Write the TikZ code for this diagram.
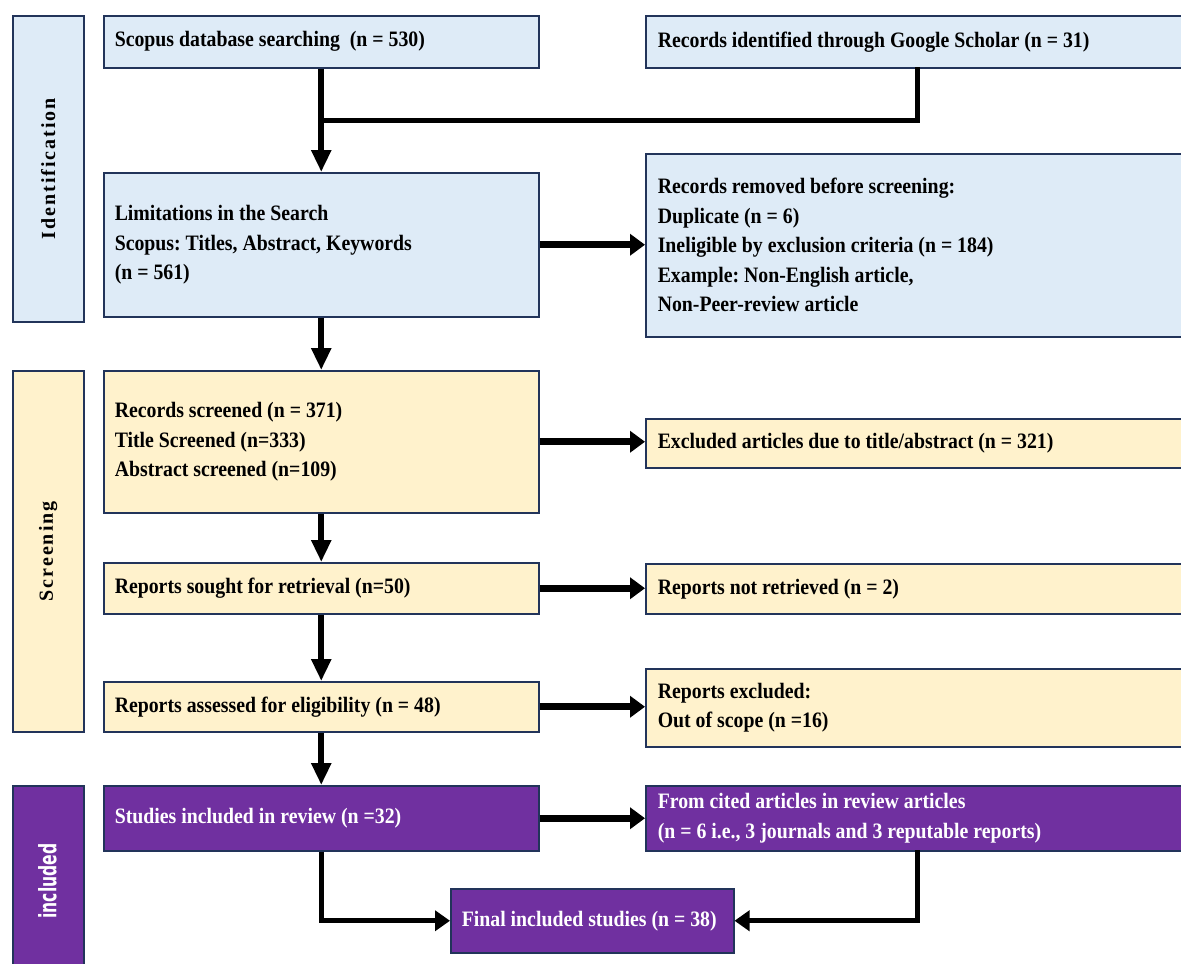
\documentclass[tikz,border=0pt]{standalone}
\usepackage{fontspec}
\usetikzlibrary{arrows.meta}
\newfontfamily\boxfont{Liberation Serif}[FakeStretch=0.9]
\newfontfamily\labfont{Liberation Serif}[LetterSpace=10]
\newfontfamily\incfont{DejaVu Sans}[FakeStretch=0.65]
\definecolor{bfill}{HTML}{DEEBF7}
\definecolor{yfill}{HTML}{FFF2CC}
\definecolor{pfill}{HTML}{7030A0}
\definecolor{navy}{HTML}{22345A}
\tikzset{
  x=1pt, y=-1pt,
  box/.style={draw=navy, line width=1.5pt, anchor=north west, align=flush left,
    inner xsep=11pt, inner ysep=0pt,
    font=\boxfont\bfseries\fontsize{22}{29.5}\selectfont\frenchspacing},
  lbox/.style={box, text width=413pt},
  rbox/.style={box, text width=540pt, inner xsep=12pt},
  blue/.style={fill=bfill},
  yel/.style={fill=yfill},
  pur/.style={fill=pfill, text=white},
  side/.style={draw=navy, line width=1.5pt, anchor=north west, minimum width=71pt, inner sep=0pt},
  vline/.style={line width=6pt, -{Triangle[width=19pt,length=22pt]}},
  hline/.style={line width=7pt, -{Triangle[width=21pt,length=15pt]}},
  mline/.style={line width=5pt},
  fline/.style={line width=5pt, -{Triangle[width=20pt,length=15pt]}},
}
\begin{document}
\begin{tikzpicture}
\useasboundingbox (0,0) rectangle (1181,964);
% side labels
\node[side, blue, minimum height=306pt] (sid) at (12,15) {};
\node[rotate=90, font=\labfont\bfseries\fontsize{20}{24}\selectfont] (lid) at (sid.center) {Identification};
\node[side, yel, minimum height=361pt] (ssc) at (12,370) {};
\node[rotate=90, font=\labfont\bfseries\fontsize{20}{24}\selectfont] (lsc) at (ssc.center) {Screening};
\node[side, pur, minimum height=200pt] (sin) at (12,785) {};
\node[rotate=90, text=white, font=\incfont\bfseries\fontsize{24}{28}\selectfont] (lin) at (12+35.5,881) {included};
% boxes
\node[lbox, blue, minimum height=52pt] (scopus) at (103,15) {Scopus database searching\ \ (n = 530)};
\node[rbox, blue, minimum height=52pt] (google) at (645,15) {Records identified through Google Scholar (n = 31)};
\node[lbox, blue, minimum height=144pt] (lim) at (103,172) {Limitations in the Search\\Scopus: Titles, Abstract, Keywords\\(n = 561)};
\node[rbox, blue, minimum height=183pt] (rem) at (645,153) {Records removed before screening:\\Duplicate (n = 6)\\Ineligible by exclusion criteria (n = 184)\\Example: Non-English article,\\Non-Peer-review article};
\node[lbox, yel, minimum height=142pt] (scr) at (103,370) {Records screened (n = 371)\\Title Screened (n=333)\\Abstract screened (n=109)};
\node[rbox, yel, minimum height=49pt] (exc) at (645,418) {Excluded articles due to title/abstract (n = 321)};
\node[lbox, yel, minimum height=51pt] (sought) at (103,562) {Reports sought for retrieval (n=50)};
\node[rbox, yel, minimum height=50pt] (notret) at (645,563) {Reports not retrieved (n = 2)};
\node[lbox, yel, minimum height=50pt] (assess) at (103,681) {Reports assessed for eligibility (n = 48)};
\node[rbox, yel, minimum height=78pt] (repexc) at (645,668) {Reports excluded:\\Out of scope (n =16)};
\node[lbox, pur, minimum height=65pt] (studies) at (103,785) {Studies included in review (n =32)};
\node[rbox, pur, minimum height=65pt] (cited) at (645,785) {From cited articles in review articles\\(n = 6 i.e., 3 journals and 3 reputable reports)};
\node[box, pur, text width=261pt, minimum height=64pt] (final) at (450,888) {Final included studies (n = 38)};
% connectors
\coordinate (gdown) at (917,67);
\coordinate (merge) at (917,120);
\coordinate (mleft) at (320.5,120);
\draw[mline] (gdown) -- (merge) -- (mleft);
\draw[vline] (scopus.south) -- (lim.north);
\draw[hline] (lim.east) -- (lim.east -| rem.west);
\draw[vline] (lim.south) -- (scr.north);
\draw[hline] (scr.east) -- (scr.east -| exc.west);
\draw[vline] (scr.south) -- (sought.north);
\draw[hline] (sought.east) -- (sought.east -| notret.west);
\draw[vline] (sought.south) -- (assess.north);
\draw[hline] (assess.east) -- (assess.east -| repexc.west);
\draw[vline] (assess.south) -- (studies.north);
\draw[hline] (studies.east) -- (studies.east -| cited.west);
\coordinate (cdown) at (917,850);
\draw[fline] (studies.south) |- (final.west);
\draw[fline] (cdown) |- (final.east);
\end{tikzpicture}
\end{document}
